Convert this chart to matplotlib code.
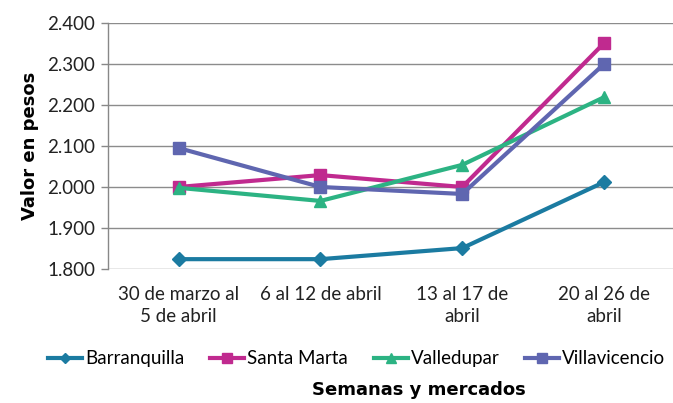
import matplotlib
matplotlib.use("Agg")
import matplotlib.pyplot as plt
from matplotlib.ticker import FuncFormatter

categories = ["30 de marzo al\n5 de abril", "6 al 12 de abril", "13 al 17 de\nabril", "20 al 26 de\nabril"]
barranquilla = [1824, 1824, 1851, 2012]
santa_marta = [2000, 2029, 2000, 2351]
valledupar = [1998, 1966, 2054, 2219]
villavicencio = [2095, 2000, 1983, 2300]
y_ticks = [1800, 1900, 2000, 2100, 2200, 2300, 2400]

plt.rcParams['font.family'] = ['Lato', 'DejaVu Sans']

fig = plt.figure(figsize=(6.73, 4.03), dpi=100)
ax = fig.add_axes([0.160, 0.3325, 0.843, 0.6105])

x = list(range(len(categories)))
series = [
    ("Barranquilla", barranquilla, "#1b7ba1", "D", 7),
    ("Santa Marta", santa_marta, "#c02a8f", "s", 9),
    ("Valledupar", valledupar, "#2cb383", "^", 9),
    ("Villavicencio", villavicencio, "#5f66b0", "s", 9),
]
for name, vals, col, mk, ms in series:
    ax.plot(x, vals, color=col, lw=3, marker=mk, markersize=ms, label=name, zorder=3)

ax.set_xlim(-0.5, 3.5)
ax.set_ylim(1800, 2400)
ax.set_yticks(y_ticks)
ax.yaxis.set_major_formatter(FuncFormatter(lambda v, p: f"{v/1000:.3f}"))
ax.set_xticks(x)
ax.set_xticklabels(categories, fontsize=13.5, color="#222222", linespacing=1.35)
ax.tick_params(axis='x', length=0, pad=12)
ax.tick_params(axis='y', labelsize=13.5, colors="#222222", length=5, color="#888888", width=1, pad=4)
ax.grid(axis='y', color="#8c8c8c", lw=1)
ax.set_axisbelow(True)
for s in ["top", "right", "bottom"]:
    ax.spines[s].set_visible(False)
ax.spines["left"].set_color("#888888")
ax.spines["left"].set_linewidth(1)

ax.set_ylabel("Valor en pesos", fontsize=13, fontweight="bold", labelpad=6,
              family=['DejaVu Sans'])
fig.text(0.622, 0.032, "Semanas y mercados", ha="center", va="center", fontsize=13,
         fontweight="bold", family=['DejaVu Sans'])

leg = fig.legend(loc="center", bbox_to_anchor=(0.53, 0.11), ncol=4, frameon=False,
                 fontsize=13.5, handlelength=1.8, handletextpad=0.15, columnspacing=1.4,
                 markerscale=0.8, borderpad=0)

fig.savefig("out.png", dpi=100)
